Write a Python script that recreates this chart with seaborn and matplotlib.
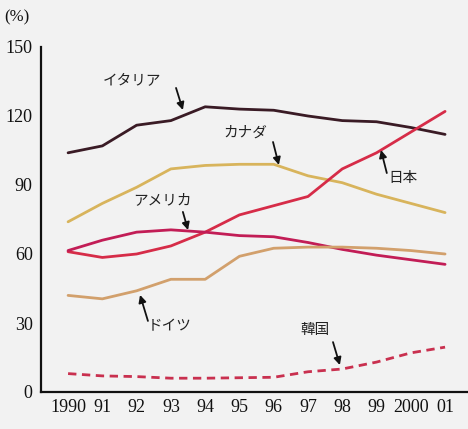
"""
Debt ratio by country, 1990-2001 (line chart with arrow labels).
"""

import numpy as np
import pandas as pd
import matplotlib
matplotlib.use("Agg")
import matplotlib.pyplot as plt
import seaborn as sns

sns.set_style("white")
plt.rcParams['font.family'] = ['Noto Sans CJK JP', 'DejaVu Sans']

years = [1990, 1991, 1992, 1993, 1994, 1995, 1996, 1997, 1998, 1999, 2000, 2001]
year_labels = ['1990', '91', '92', '93', '94', '95', '96', '97', '98', '99', '2000', '01']

italy = [104, 107, 116, 118, 124, 123, 122.5, 120, 118, 117.5, 115, 112]
canada = [74, 82, 89, 97, 98.5, 99, 99, 94, 91, 86, 82, 78]
japan = [61, 58.5, 60, 63.5, 69.5, 77, 81, 85, 97, 104, 113, 122]
usa = [61.5, 66, 69.5, 70.5, 69.5, 68, 67.5, 65, 62, 59.5, 57.5, 55.5]
germany = [42, 40.5, 44, 49, 49, 59, 62.5, 63, 63, 62.5, 61.5, 60]
korea = [8, 7, 6.7, 6, 6, 6.2, 6.4, 8.8, 10, 13, 17, 19.5]

names = ['イタリア', 'カナダ', '日本', 'アメリカ', 'ドイツ', '韓国']
series = [italy, canada, japan, usa, germany, korea]
yticks = [0, 30, 60, 90, 120, 150]

colors = {
    'イタリア': '#3a1b25',
    'カナダ': '#d8b45c',
    '日本': '#d62c48',
    'アメリカ': '#c21d56',
    'ドイツ': '#d2a06c',
    '韓国': '#c9304f',
}
dashes = {n: '' for n in names}
dashes['韓国'] = (3, 2)

df = pd.DataFrame({
    'year': np.tile(years, len(names)),
    'value': np.concatenate(series),
    'country': np.repeat(names, len(years)),
})

bg = '#f2f2f2'
fig = plt.figure(figsize=(4.68, 4.29), dpi=100, facecolor=bg)
ax = fig.add_axes([41 / 468, 37 / 429, 426 / 468, 345 / 429])
ax.set_facecolor(bg)

sns.lineplot(data=df, x='year', y='value', hue='country', style='country',
             palette=colors, dashes=dashes, linewidth=2, legend=False, ax=ax)

ax.set_xlim(1989.21, 2001.64)
ax.set_ylim(0, 150)
ax.set_xticks(years)
ax.set_xticklabels(year_labels)
ax.set_yticks(yticks)
ax.set_xlabel('')
ax.set_ylabel('')

for side in ['top', 'right']:
    ax.spines[side].set_visible(False)
for side in ['left', 'bottom']:
    ax.spines[side].set_linewidth(1.6)
    ax.spines[side].set_color('#111111')

ax.tick_params(axis='y', direction='in', length=8, width=1.4, pad=6, colors='#111111')
ax.tick_params(axis='x', direction='in', length=5, width=1.2, pad=5, colors='#111111')
for lab in ax.get_xticklabels() + ax.get_yticklabels():
    lab.set_family('Liberation Serif')
    lab.set_fontsize(13)

fig.text(17 / 468, 1 - 17 / 429, '(%)', family='Liberation Serif', fontsize=12,
         ha='center', va='center', color='#111111')

# arrow labels: (text pos, arrow tail, arrow head) in data coords
labels = {
    'イタリア': ((1991.87, 135.7), (1993.15, 132.2), (1993.35, 122.6)),
    'カナダ': ((1995.16, 112.6), (1995.98, 108.7), (1996.15, 98.7)),
    '日本': ((1999.77, 93.0), (1999.30, 95.2), (1999.13, 105.2)),
    'アメリカ': ((1992.74, 83.5), (1993.35, 78.3), (1993.50, 70.4)),
    'ドイツ': ((1992.97, 28.7), (1992.33, 30.9), (1992.10, 42.2)),
    '韓国': ((1997.20, 27.0), (1997.73, 21.7), (1997.93, 11.7)),
}
for name, (tpos, tail, head) in labels.items():
    ax.text(tpos[0], tpos[1], name, fontsize=10.5, ha='center', va='center',
            color='#222222')
    ax.annotate('', xy=head, xytext=tail,
                arrowprops=dict(arrowstyle='-|>', color='#111111', lw=1.3,
                                mutation_scale=11, shrinkA=0, shrinkB=0))

fig.savefig('out.png', dpi=100, facecolor=bg)
plt.close(fig)
